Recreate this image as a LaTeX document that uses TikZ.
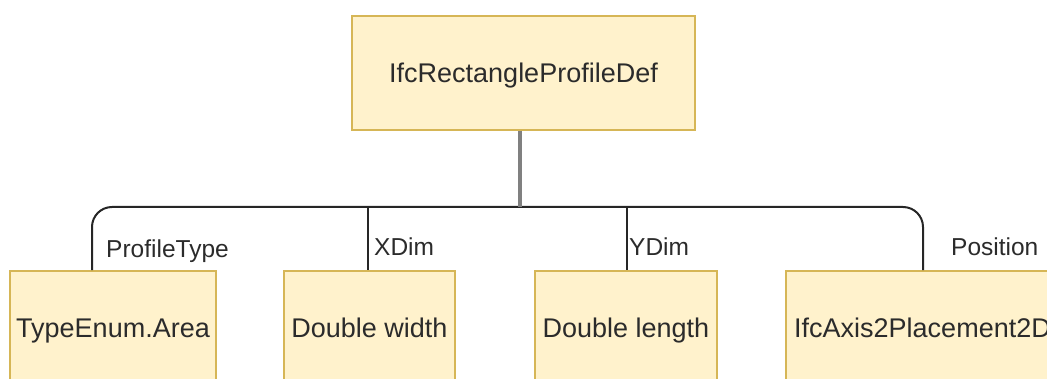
\documentclass[tikz,border=0pt]{standalone}
\usepackage{fontspec}
\setmainfont{Liberation Sans}
\definecolor{boxfill}{HTML}{FFF2CC}
\definecolor{boxline}{HTML}{D6B656}
\definecolor{wire}{HTML}{262626}
\definecolor{trunkgray}{HTML}{808080}
\definecolor{txt}{HTML}{2B2B2B}
\begin{document}
\begin{tikzpicture}[x=1pt,y=-1pt,
  entity/.style={draw=boxline, fill=boxfill, line width=1.5pt, minimum height=114pt,
    inner sep=0pt, text height=19.3pt, text depth=0pt,
    font=\fontsize{27}{32}\selectfont, text=txt},
  link/.style={draw=wire, line width=2pt, rounded corners=20pt},
  trunk/.style={draw=trunkgray, line width=3.5pt},
  role/.style={font=\fontsize{24.5}{29}\selectfont, text=txt, inner sep=0pt, anchor=base west}]
\useasboundingbox (0,0) rectangle (1047,379);
\clip (0,0) rectangle (1047,379);

% parent entity
\node[entity, minimum width=343pt] (root) at (523.5,73) {IfcRectangleProfileDef};

% attribute values
\node[entity, minimum width=206pt] (area) at (113,328) {TypeEnum.Area};
\node[entity, minimum width=171pt] (width) at (369.5,328) {Double width};
\node[entity, minimum width=182pt] (length) at (626,328) {Double length};
\node[entity, minimum width=273pt] (place) at (922.5,328) {IfcAxis2Placement2D};

% bus junctions
\coordinate (hub) at (520,207);
\coordinate (j1) at (92,207);
\coordinate (j2) at (368,207);
\coordinate (j3) at (627,207);
\coordinate (j4) at (923,207);

% connectors
\draw[link] (area.north -| j1) -- (j1) -- (j4) -- (place.north -| j4);
\draw[link] (j2) -- (width.north -| j2);
\draw[link] (j3) -- (length.north -| j3);
\draw[trunk] (root.south -| hub) -- (hub);

% attribute names
\node[role] (lblType) at (106,258) {ProfileType};
\node[role] (lblX) at (374,256) {XDim};
\node[role] (lblY) at (629,256) {YDim};
\node[role] (lblPos) at (951,256) {Position};
\end{tikzpicture}
\end{document}
